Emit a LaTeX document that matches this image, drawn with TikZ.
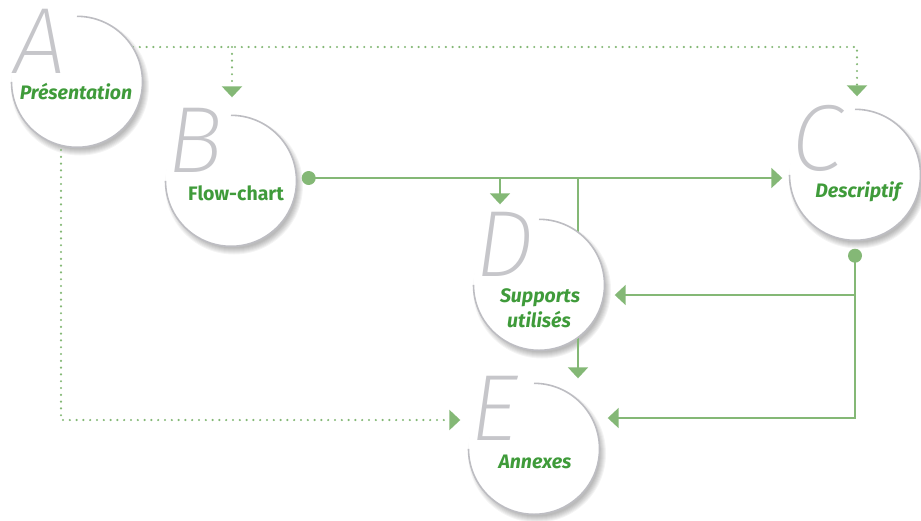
\documentclass[tikz,border=0pt]{standalone}
\usepackage{fontspec}
\setmainfont{Fira Sans}
\IfFontExistsTF{Fira Sans ExtraLight Italic}{\newfontfamily\letfont{Fira Sans ExtraLight Italic}}{%
  \IfFontExistsTF{Fira Sans Light Italic}{\newfontfamily\letfont{Fira Sans Light Italic}}{\newfontfamily\letfont{Fira Sans}[UprightFont=*-Italic]}}
\usetikzlibrary{arrows.meta,calc}
\definecolor{lgreen}{HTML}{84B876}
\definecolor{tgreen}{HTML}{3F9B3A}
\definecolor{arcgray}{HTML}{BDBDC2}
\definecolor{letgray}{HTML}{C6C6CA}
\pgfdeclarelayer{shad}\pgfdeclarelayer{conn}\pgfsetlayers{shad,conn,main}
\tikzset{
  circ/.style={circle, fill=white, minimum size=131pt, inner sep=0pt},
  arcst/.style={draw=arcgray, line width=1.6pt},
  bigl/.style={anchor=base west, inner sep=0pt, text=letgray, font=\letfont\fontsize{94}{94}\selectfont},
  lbl/.style={anchor=base, inner sep=0pt, text=tgreen, font=\bfseries\itshape\fontsize{19.5}{21}\selectfont},
  lblup/.style={anchor=base, inner sep=0pt, text=tgreen, font=\bfseries\fontsize{19.5}{21}\selectfont},
  gl/.style={draw=lgreen, line width=2pt},
  dotl/.style={draw=lgreen, line width=2.4pt, line cap=round, dash pattern=on 0pt off 6.8pt},
  arrtip/.style={-{Triangle[width=20pt,length=11pt]}},
  gdot/.style={circle, fill=lgreen, minimum size=14pt, inner sep=0pt}
}
\begin{document}
\begin{tikzpicture}[x=1pt,y=-1pt]
\useasboundingbox (0,0) rectangle (921,520);
% circles
\node[circ] (A) at (77,82) {};
\node[circ] (B) at (231,181) {};
\node[circ] (C) at (855,175) {};
\node[circ] (D) at (539,285) {};
\node[circ] (E) at (534,449) {};
% shadows
\begin{pgfonlayer}{shad}
\foreach \n in {A,B,C,D,E}{
  \foreach \k in {0,...,6}{
    \fill[black,opacity=0.045] ($(\n)+(3,4.5)$) circle[radius=63pt+\k pt];
  }
}
\end{pgfonlayer}
% arcs
\foreach \n in {A,B,C,D,E}{
  \draw[arcst] (\n.north) arc[start angle=90, end angle=-180, radius=65.5pt];
}
% big letters
\node[bigl] (Al) at ($(A)+(-64,-9)$) {A};
\node[bigl] (Bl) at ($(B)+(-64,-9)$) {B};
\node[bigl] (Cl) at ($(C)+(-64,-5)$) {C};
\node[bigl] (Dl) at ($(D)+(-64,-9)$) {D};
\node[bigl] (El) at ($(E)+(-64,-9)$) {E};
% labels
\node[lbl] (At) at (76,99) {Présentation};
\node[lblup] (Bt) at (236,200) {Flow-chart};
\node[lbl] (Ct) at (858,197) {Descriptif};
\node[lbl] (Dt1) at (540,302) {Supports};
\node[lbl] (Dt2) at (539,327) {utilisés};
\node[lbl] (Et) at (535,468) {Annexes};
% dots
\node[gdot] (bdot) at ($(B.east)+(12,-3)$) {};
\node[gdot] (cdot) at ($(C.south)+(0,15)$) {};
% junction coordinates
\coordinate (aR) at (133,47);
\coordinate (j1) at (232,47);
\coordinate (aB) at (61,150);
\coordinate (j2) at (500,178);
\coordinate (j3) at (578,178);
\coordinate (j4) at (855,295);
\begin{pgfonlayer}{conn}
\draw[dotl,arrtip] (aR) -| ($(C.north)+(2,-13)$);
\draw[dotl,arrtip] (j1) -- ($(B.north)+(1,-18)$);
\draw[dotl,arrtip] (aB) |- ($(E.west)+(-8,-29)$);
\draw[gl,arrtip] (bdot.center) -- ($(C.west)+(-7,3)$);
\draw[gl,arrtip] (j2) -- ($(D.north)+(-39,-15)$);
\draw[gl] (j3) -- (j3 |- D.center);
\draw[gl,arrtip] (cdot.center) |- ($(E.east)+(8,-31)$);
\draw[gl,arrtip] (j4) -- ($(D.east)+(10,10)$);
\draw[gl,arrtip] (j3 |- D.center) -- ($(E.north)+(44,-5)$);
\end{pgfonlayer}
\end{tikzpicture}
\end{document}
